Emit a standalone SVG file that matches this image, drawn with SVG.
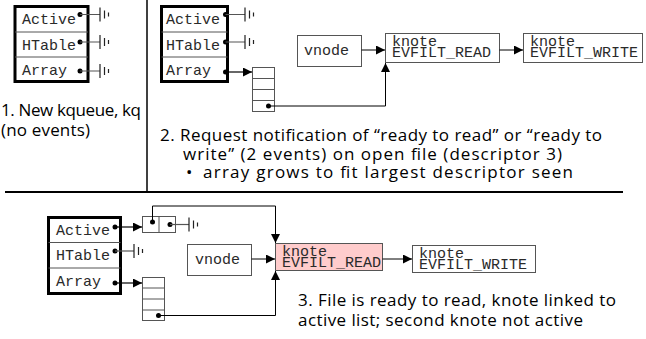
<svg xmlns="http://www.w3.org/2000/svg" width="646" height="339" viewBox="0 0 646 339">
  <style>
    .mono{font-family:"Liberation Mono","Courier New",monospace;font-size:15px;fill:#2a2a2a}
    .kn{font-family:"Liberation Mono","Courier New",monospace;font-size:15px;fill:#2a2a2a}
    .cap{font-family:"Comic Sans MS","Open Sans",sans-serif;font-size:17px;fill:#000}
    .frame{fill:#fff;stroke:#000;stroke-width:3}
    .cell{fill:none;stroke:#555;stroke-width:1}
    .box{fill:#fff;stroke:#555;stroke-width:1}
    .hot{fill:#ffcccc;stroke:#555;stroke-width:1}
    .wire{fill:none;stroke:#000;stroke-width:1}
    .ptr{fill:none;stroke:#000;stroke-width:1.2}
    .gl{fill:none;stroke:#555;stroke-width:1.2}
    .rule{stroke:#000;fill:none}
  </style>
  <defs>
    <marker id="arr" markerUnits="userSpaceOnUse" markerWidth="9" markerHeight="9" viewBox="0 0 9 9" refX="9" refY="4.5" orient="auto">
      <path d="M0,0 L9,4.5 L0,9 Z" fill="#000"/>
    </marker>
    <!-- null pointer (sideways ground) -->
    <symbol id="gnd" overflow="visible">
      <path d="M0,-7V7M4.5,-4V4M8.5,-2V2" stroke="#222" stroke-width="1.2" fill="none"/>
    </symbol>
  </defs>

  <!-- panel separators -->
  <g id="rules">
    <line class="rule" x1="147" y1="0" x2="147" y2="192" stroke-width="1.5"/>
    <line class="rule" x1="5" y1="192" x2="623" y2="192" stroke-width="2"/>
  </g>

  <!-- ===== step 1 ===== -->
  <g id="kq1">
    <rect class="frame" x="15" y="6.5" width="73" height="75"/>
    <line class="cell" x1="15" y1="32" x2="88" y2="32"/>
    <line class="cell" x1="15" y1="57" x2="88" y2="57"/>
    <text class="mono" x="22" y="24">Active</text>
    <text class="mono" x="22" y="50">HTable</text>
    <text class="mono" x="22" y="75">Array</text>
    <circle cx="80" cy="14.5" r="2.5"/>
    <circle cx="80" cy="42" r="2.5"/>
    <circle cx="80" cy="71" r="2.5"/>
    <path class="gl" d="M80,14.5H100M80,42H100M80,71H100"/>
    <use href="#gnd" x="100" y="14.5"/>
    <use href="#gnd" x="100" y="42"/>
    <use href="#gnd" x="100" y="71"/>
  </g>
  <g id="cap1">
    <text class="cap" x="1" y="116" textLength="140">1. New kqueue, kq</text>
    <text class="cap" x="1" y="136" textLength="89">(no events)</text>
  </g>

  <!-- ===== step 2 ===== -->
  <g id="kq2">
    <rect class="frame" x="161.5" y="6.5" width="66" height="75"/>
    <line class="cell" x1="161.5" y1="32" x2="227.5" y2="32"/>
    <line class="cell" x1="161.5" y1="57" x2="227.5" y2="57"/>
    <text class="mono" x="166" y="24">Active</text>
    <text class="mono" x="166" y="50">HTable</text>
    <text class="mono" x="166" y="75">Array</text>
    <circle cx="225.5" cy="14.5" r="2.5"/>
    <circle cx="225.5" cy="42" r="2.5"/>
    <circle cx="225.5" cy="72" r="2.5"/>
    <path class="gl" d="M225.5,14.5H245M225.5,42H245"/>
    <use href="#gnd" x="245" y="14.5"/>
    <use href="#gnd" x="245" y="42"/>
  </g>
  <g id="arr2">
    <rect class="cell" x="252.5" y="67.5" width="22" height="44"/>
    <line class="cell" x1="252.5" y1="78.5" x2="274.5" y2="78.5"/>
    <line class="cell" x1="252.5" y1="89.5" x2="274.5" y2="89.5"/>
    <line class="cell" x1="252.5" y1="100.5" x2="274.5" y2="100.5"/>
    <circle cx="268.5" cy="106" r="2.5"/>
  </g>
  <g id="vnode2">
    <rect class="box" x="297.5" y="35.5" width="64" height="31"/>
    <text class="mono" x="304" y="55">vnode</text>
  </g>
  <g id="kread2">
    <rect class="box" x="385.5" y="33.5" width="114" height="29"/>
    <text class="kn" x="392" y="46">knote<tspan x="392" dy="11">EVFILT_READ</tspan></text>
  </g>
  <g id="kwrite2">
    <rect class="box" x="523.5" y="33.5" width="119" height="29"/>
    <text class="kn" x="530" y="46">knote<tspan x="530" dy="11">EVFILT_WRITE</tspan></text>
  </g>
  <g id="links2">
    <path class="ptr" d="M225.5,72H252" marker-end="url(#arr)"/>
    <path class="wire" d="M268.5,106H385.5V63" marker-end="url(#arr)"/>
    <path class="wire" d="M361.5,50H385" marker-end="url(#arr)"/>
    <path class="wire" d="M499.5,50H523" marker-end="url(#arr)"/>
  </g>
  <g id="cap2">
    <text class="cap" x="160" y="141" textLength="442">2. Request notification of “ready to read” or “ready to</text>
    <text class="cap" x="183" y="160" textLength="379">write” (2 events) on open file (descriptor 3)</text>
    <text class="cap" x="186" y="178">•</text>
    <text class="cap" x="203" y="178" textLength="370">array grows to fit largest descriptor seen</text>
  </g>

  <!-- ===== step 3 ===== -->
  <g id="kq3">
    <rect class="frame" x="48.5" y="217.5" width="72" height="76"/>
    <line class="cell" x1="48.5" y1="242.5" x2="120.5" y2="242.5"/>
    <line class="cell" x1="48.5" y1="268" x2="120.5" y2="268"/>
    <text class="mono" x="56" y="235">Active</text>
    <text class="mono" x="56" y="260">HTable</text>
    <text class="mono" x="56" y="286">Array</text>
    <circle cx="115" cy="227" r="2.5"/>
    <circle cx="115" cy="251" r="2.5"/>
    <circle cx="115" cy="283" r="2.5"/>
    <path class="gl" d="M115,251H134"/>
    <use href="#gnd" x="134" y="251"/>
  </g>
  <g id="act3">
    <rect class="cell" x="142.5" y="216.5" width="33" height="16"/>
    <line class="cell" x1="159" y1="216.5" x2="159" y2="232.5"/>
    <circle cx="152.5" cy="222" r="2.5"/>
    <circle cx="170" cy="224.5" r="2.5"/>
    <path class="gl" d="M170,224.5H189"/>
    <use href="#gnd" x="189" y="224.5"/>
  </g>
  <g id="arr3">
    <rect class="cell" x="142.5" y="277.5" width="22" height="43"/>
    <line class="cell" x1="142.5" y1="288" x2="164.5" y2="288"/>
    <line class="cell" x1="142.5" y1="299" x2="164.5" y2="299"/>
    <line class="cell" x1="142.5" y1="310" x2="164.5" y2="310"/>
    <circle cx="158.5" cy="315.5" r="2.5"/>
  </g>
  <g id="vnode3">
    <rect class="box" x="187.5" y="244.5" width="64" height="31"/>
    <text class="mono" x="195" y="264">vnode</text>
  </g>
  <g id="kread3">
    <rect class="hot" x="275.5" y="243.5" width="107" height="27"/>
    <text class="kn" x="282" y="256">knote<tspan x="282" dy="11">EVFILT_READ</tspan></text>
  </g>
  <g id="kwrite3">
    <rect class="box" x="412.5" y="245.5" width="123" height="27"/>
    <text class="kn" x="419" y="258">knote<tspan x="419" dy="11">EVFILT_WRITE</tspan></text>
  </g>
  <g id="links3">
    <path class="ptr" d="M115,227H142" marker-end="url(#arr)"/>
    <path class="ptr" d="M115,283H142" marker-end="url(#arr)"/>
    <path class="wire" d="M152.5,222V206H275.5V243" marker-end="url(#arr)"/>
    <path class="wire" d="M158.5,315.5H275.5V271" marker-end="url(#arr)"/>
    <path class="wire" d="M251.5,259H275" marker-end="url(#arr)"/>
    <path class="wire" d="M382.5,259H412" marker-end="url(#arr)"/>
  </g>
  <g id="cap3">
    <text class="cap" x="298" y="306" textLength="318">3. File is ready to read, knote linked to</text>
    <text class="cap" x="298" y="326" textLength="285">active list; second knote not active</text>
  </g>
</svg>
